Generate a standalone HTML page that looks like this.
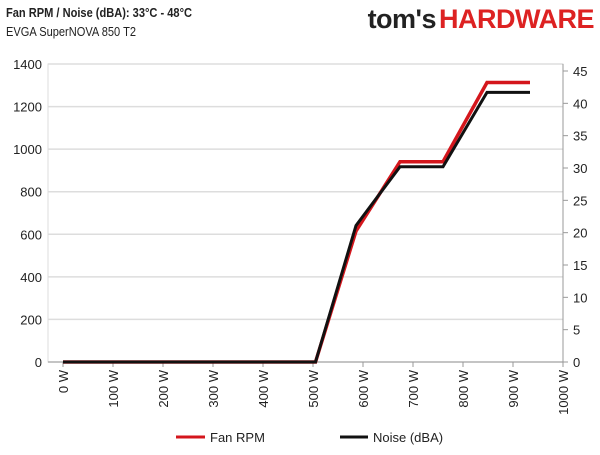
<!DOCTYPE html>
<html><head><meta charset="utf-8"><style>
body{margin:0;background:#fff;font-family:"Liberation Sans",sans-serif}
svg text{font-family:"Liberation Sans",sans-serif;fill:#222}
</style></head><body>
<svg width="600" height="450" xmlns="http://www.w3.org/2000/svg">
<text x="6" y="17" font-size="12.5" font-weight="bold" textLength="186" lengthAdjust="spacingAndGlyphs">Fan RPM / Noise (dBA): 33°C - 48°C</text>
<text x="6" y="36" font-size="12.5" textLength="130" lengthAdjust="spacingAndGlyphs">EVGA SuperNOVA 850 T2</text>
<g><text x="594" y="28" font-size="27" font-weight="bold" text-anchor="end" letter-spacing="-0.5"><tspan fill="#222">tom's</tspan><tspan fill="#d22" dx="3">HARDWARE</tspan></text></g>
<g id="grid"></g><g id="axes"></g><g id="series"></g>
<g>
<g><line x1="176" y1="437" x2="205" y2="437" stroke="#d4161c" stroke-width="3"/><text x="210" y="442" font-size="13">Fan RPM</text></g>
<g><line x1="340" y1="437" x2="368" y2="437" stroke="#111" stroke-width="3"/><text x="373" y="442" font-size="13">Noise (dBA)</text></g>
</g>
</svg>
<script>
const xs=[0,505,586,674,760,848,934];
const rpm=[0,0,615,941,941,1313,1313];
const noise=[0,0,21.1,30.2,30.2,41.7,41.7];
const leftTicks=[0,200,400,600,800,1000,1200,1400];
const rightTicks=[0,5,10,15,20,25,30,35,40,45];
const xTicks=[0,100,200,300,400,500,600,700,800,900,1000];
const NS="http://www.w3.org/2000/svg";
const X=v=>63+v*0.5, YL=v=>362-v*(298/1400), YR=v=>362-v*(291/45);
function mk(p,t,a){const e=document.createElementNS(NS,t);for(const k in a)e.setAttribute(k,a[k]);p.appendChild(e);return e;}
const g=document.getElementById('grid'),ax=document.getElementById('axes'),s=document.getElementById('series');
mk(g,'rect',{x:48,y:64,width:515,height:298,fill:'none',stroke:'#ddd'});
leftTicks.forEach(v=>{
 const l=mk(g,'line',{x1:48,x2:563,y1:YL(v),y2:YL(v),stroke:'#ddd','stroke-width':1.5});
 
 
 const t=mk(ax,'text',{x:42,y:YL(v)+5,'text-anchor':'end','font-size':13});t.textContent=v;
 
 
});
mk(ax,'line',{x1:563,x2:563,y1:64,y2:362,stroke:'#999'});
mk(ax,'line',{x1:48,x2:563,y1:362,y2:362,stroke:'#999'});
rightTicks.forEach(v=>{
 mk(ax,'line',{x1:563,x2:568,y1:YR(v),y2:YR(v),stroke:'#999'});
 const t=mk(ax,'text',{x:573,y:YR(v)+5,'font-size':13});t.textContent=v;
 
 
});
xTicks.forEach(v=>{
 mk(ax,'line',{x1:X(v),x2:X(v),y1:362,y2:367,stroke:'#999'});
 const t=mk(ax,'text',{x:X(v)+5,y:370,'text-anchor':'end','font-size':13,transform:`rotate(-90 ${X(v)+5} 370)`});t.textContent=v+' W';
 
 
});
const r=mk(s,'polyline',{points:xs.map((x,i)=>X(x)+','+YL(rpm[i])).join(' '),fill:'none',stroke:'#d4161c','stroke-width':3.5});


const n=mk(s,'polyline',{points:xs.map((x,i)=>X(x)+','+YR(noise[i])).join(' '),fill:'none',stroke:'#111','stroke-width':3});


</script>
</body></html>
